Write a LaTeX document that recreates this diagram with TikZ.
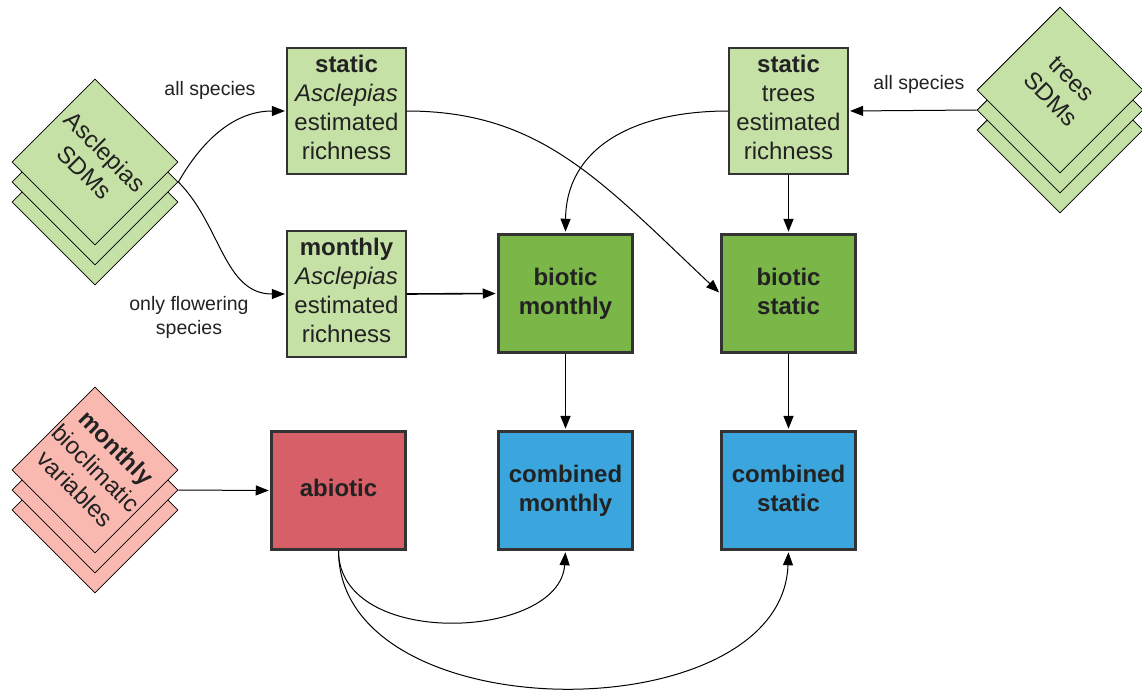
\documentclass[tikz,border=0pt]{standalone}
\usepackage{fontspec}
\setmainfont{Liberation Sans}
\usetikzlibrary{shapes.geometric,arrows.meta}
\definecolor{lgreen}{HTML}{C5E1A5}
\definecolor{dgreen}{HTML}{7AB648}
\definecolor{bblue}{HTML}{3AA6DD}
\definecolor{rred}{HTML}{D65F68}
\definecolor{lred}{HTML}{F9B9B0}
\definecolor{txt}{HTML}{222222}
\definecolor{bord}{HTML}{333333}
\newcommand{\lowstrut}{\rule[-8pt]{0pt}{8pt}}
\begin{document}
\begin{tikzpicture}[x=1pt,y=-1pt,
  mainfont/.style={font=\fontsize{24}{29}\selectfont},
  lbox/.style={draw=bord, line width=1.2pt, fill=lgreen, minimum width=119, minimum height=126,
    inner sep=0, align=center, mainfont, text=txt},
  dbox/.style={draw=bord, line width=2.5pt, minimum width=134, minimum height=118,
    inner sep=0, align=center, font=\fontsize{24}{29}\selectfont\bfseries, text=txt},
  dia/.style={diamond, aspect=1, draw=black, line width=0.8pt, minimum width=166, minimum height=166, inner sep=0},
  dtext/.style={rotate=-45, align=center, mainfont, text=txt, inner sep=0},
  lab/.style={align=center, font=\fontsize{19.5}{24}\selectfont, text=txt},
  arr/.style={-{Triangle[length=13pt,width=10pt]}, line width=1pt, draw=black, shorten >=1.5pt},
  arrt/.style={-{Triangle[length=13pt,width=10pt]}, line width=1.6pt, draw=black, shorten >=1.5pt}
]
\useasboundingbox (0,0) rectangle (1142,689);

% Asclepias SDMs stack
\node[dia, fill=lgreen] (as3) at (95,202) {};
\node[dia, fill=lgreen] (as2) at (95,182) {};
\node[dia, fill=lgreen] (as1) at (95,162) {};
\node[dtext] (ast) at (95,162) {Asclepias\\SDMs};

% trees SDMs stack
\node[dia, fill=lgreen] (ts3) at (1060,130) {};
\node[dia, fill=lgreen] (ts2) at (1060,110) {};
\node[dia, fill=lgreen] (ts1) at (1060,90) {};
\node[dtext] (tst) at (1061,89) {trees\\SDMs};

% bioclimatic stack
\node[dia, fill=lred] (mb3) at (95,510) {};
\node[dia, fill=lred] (mb2) at (95,490) {};
\node[dia, fill=lred] (mb1) at (95,470) {};
\node[dtext] (mbt) at (96,468) {\textbf{monthly}\\bioclimatic\\variables};

% boxes
\node[lbox] (sa) at (346.5,111) {\textbf{static}\\\textit{Asclepias}\\estimated\\richness\lowstrut};
\node[lbox] (ma) at (346.5,294) {\textbf{monthly}\\\textit{Asclepias}\\estimated\\richness\lowstrut};
\node[lbox] (st) at (788.5,111) {\textbf{static}\\trees\\estimated\\richness\lowstrut};
\node[dbox, fill=dgreen] (bm) at (565.5,293.5) {biotic\\monthly};
\node[dbox, fill=dgreen] (bs) at (788.5,293.5) {biotic\\static\vphantom{y}};
\node[dbox, fill=rred] (ab) at (338.5,490.5) {abiotic\vphantom{y}};
\node[dbox, fill=bblue] (cm) at (565.5,490.5) {combined\\monthly};
\node[dbox, fill=bblue] (cs) at (788.5,490.5) {combined\\static\vphantom{y}};

% labels
\node[lab] (l1) at (210,90) {all species};
\node[lab] (l2) at (189,317) {only flowering\\species};
\node[lab] (l3) at (919,84) {all species};

% connectors
\draw[arr] (as2.east) .. controls (203,139) and (235,111) .. (sa.west);
\draw[arr] (as2.east) .. controls (221,225) and (224,294) .. (ma.west);
\draw[arr] (ts2.west) -- (st.east);
\draw[arrt] (ma.east) -- (bm.west);
\draw[arr] (sa.east) .. controls (540,111) and (600,180) .. (bs.west);
\draw[arr] (st.west) .. controls (630,111) and (566,150) .. (bm.north);
\draw[arrt] (st.south) -- (bs.north);
\draw[arrt] (bm.south) -- (cm.north);
\draw[arrt] (bs.south) -- (cs.north);
\draw[arr] (mb2.east) -- (ab.west);
\draw[arr] (ab.south) .. controls (339,650) and (560,640) .. (cm.south);
\draw[arr] (ab.south) .. controls (339,733) and (782,733) .. (cs.south);
\end{tikzpicture}
\end{document}
